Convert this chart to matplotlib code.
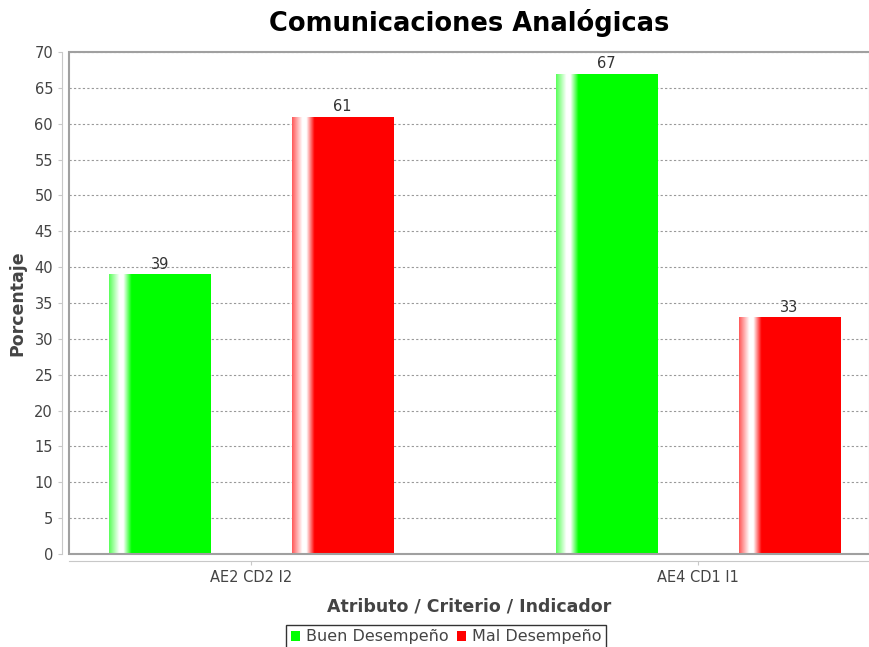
import numpy as np
import matplotlib
matplotlib.use('Agg')
import matplotlib.pyplot as plt
from matplotlib.patches import Rectangle, Patch
from matplotlib.colors import to_rgb

# datos
categorias = ['AE2 CD2 I2', 'AE4 CD1 I1']
buen = [39, 67]
mal = [61, 33]
series = ['Buen Desempeño', 'Mal Desempeño']
colores = ['#00ff00', '#ff0000']

plt.rcParams['font.family'] = ['DejaVu Sans']

fig = plt.figure(figsize=(8.7, 6.47), dpi=100)
ax = fig.add_axes([69 / 870, 1 - 554 / 647, 801 / 870, 502 / 647])

x = np.arange(len(categorias))
ancho = 0.226
desp = 0.204


def pintar_gradiente(barras, color):
    # barra con brillo blanco cerca del borde izquierdo (estilo JFreeChart)
    base = np.array(to_rgb(color))
    t = np.linspace(0, 1, 200)
    w = np.interp(t, [0, 0.1, 0.14, 0.22, 1], [0.35, 1.0, 1.0, 0.0, 0.0])
    fila = base[None, :] * (1 - w[:, None]) + w[:, None]
    img = fila[None, :, :]
    for b in barras:
        x0, w_ = b.get_x(), b.get_width()
        h = b.get_height()
        im = ax.imshow(img, extent=(x0, x0 + w_, 0, h), aspect='auto',
                       interpolation='bilinear', zorder=3)
        im.set_clip_path(b)
        b.set_facecolor('none')


b1 = ax.bar(x - desp, buen, ancho, color=colores[0], linewidth=0, zorder=2)
b2 = ax.bar(x + desp, mal, ancho, color=colores[1], linewidth=0, zorder=2)
pintar_gradiente(b1, colores[0])
pintar_gradiente(b2, colores[1])

ax.bar_label(b1, padding=2, fontsize=10.5, color='#333333')
ax.bar_label(b2, padding=2, fontsize=10.5, color='#333333')

ax.set_xlim(-(251 - 69) / 447, 1 + (870 - 698) / 447)
ax.set_ylim(0, 70)
ax.set_yticks(range(0, 71, 5))
ax.set_xticks(x)
ax.set_xticklabels(categorias)

ax.yaxis.grid(True, linestyle=(0, (2, 2)), color='#999999', linewidth=0.8)
ax.set_axisbelow(True)

for s in ['top', 'right']:
    ax.spines[s].set_visible(False)
ax.spines['left'].set_position(('outward', 5))
ax.spines['bottom'].set_position(('outward', 5))
ax.spines['left'].set_color('#c8c8c8')
ax.spines['bottom'].set_color('#c8c8c8')
ax.tick_params(axis='both', colors='#c8c8c8', labelcolor='#444444',
               labelsize=10.5, length=3, width=0.8)

# borde del área de trazado
ax.add_patch(Rectangle((0, 0), 1, 1, transform=ax.transAxes, fill=False,
                       edgecolor='#a0a0a0', linewidth=1.5, clip_on=False,
                       zorder=5))

ax.set_title('Comunicaciones Analógicas', fontsize=18.5, fontweight='bold',
             pad=15)
ax.set_xlabel('Atributo / Criterio / Indicador', fontsize=12.5,
              fontweight='bold', color='#444444', labelpad=9)
ax.set_ylabel('Porcentaje', fontsize=12.5, fontweight='bold',
              color='#444444', labelpad=6)

handles = [Patch(facecolor=c, edgecolor='none') for c in colores]
leg = fig.legend(handles, series, loc='center',
                 bbox_to_anchor=(446 / 870, 1 - 637 / 647), ncol=2,
                 fontsize=11.5, frameon=True, fancybox=False,
                 handlelength=0.6, handleheight=0.6, handletextpad=0.35,
                 columnspacing=0.5, borderpad=0.3, borderaxespad=0)
leg.get_frame().set_edgecolor('black')
leg.get_frame().set_linewidth(1)
for t in leg.get_texts():
    t.set_color('#444444')

fig.savefig('out.png', dpi=100)
